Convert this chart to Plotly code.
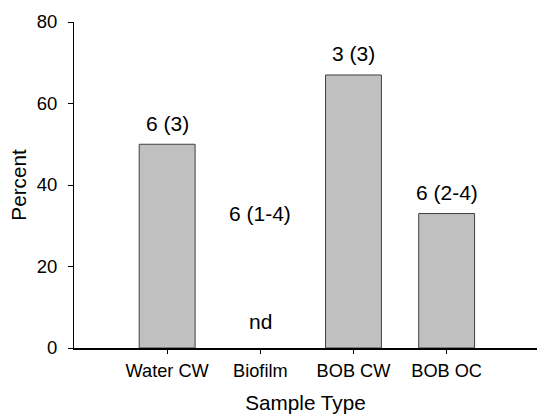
import plotly.graph_objects as go

categories = ["Water CW", "Biofilm", "BOB CW", "BOB OC"]
percent = [50, 0, 67, 33]
n_labels = ["6 (3)", "6 (1-4)", "3 (3)", "6 (2-4)"]
nd_labels = ["", "nd", "", ""]

FONT = "Liberation Sans, Arial, Helvetica, sans-serif"

fig = go.Figure()
fig.add_trace(go.Bar(
    x=categories, y=percent, width=0.6,
    marker=dict(color="#c0c0c0",
                line=dict(color="#404040", width=[1 if v > 0 else 0 for v in percent])),
    hoverinfo="skip",
))

for c, v, lab, nd in zip(categories, percent, n_labels, nd_labels):
    if v > 0:
        fig.add_annotation(x=c, y=v, text=lab, showarrow=False, yanchor="middle",
                           yshift=21, font=dict(size=21, color="black", family=FONT))
    else:
        fig.add_annotation(x=c, y=33, text=lab, showarrow=False, yanchor="middle",
                           font=dict(size=21, color="black", family=FONT))
    if nd:
        fig.add_annotation(x=c, y=0, text=nd, showarrow=False, yanchor="middle",
                           yshift=27, font=dict(size=21, color="black", family=FONT))

fig.update_layout(
    width=537, height=416,
    margin=dict(l=74, r=0, t=22, b=68),
    paper_bgcolor="white", plot_bgcolor="white",
    showlegend=False,
    font=dict(family=FONT, color="black", size=18),
    xaxis=dict(
        range=[-1.0, 3.97], showgrid=False, zeroline=False,
        showline=True, linecolor="black", linewidth=2,
        ticks="outside", ticklen=4, tickcolor="black", tickwidth=1,
        tickfont=dict(size=18.2), ticklabelstandoff=1,
        title=dict(text="Sample Type", font=dict(size=20.7), standoff=16),
    ),
    yaxis=dict(
        range=[0, 80], tickvals=[0, 20, 40, 60, 80], showgrid=False, zeroline=False,
        showline=True, linecolor="black", linewidth=1,
        ticks="outside", ticklen=5, tickcolor="black", tickwidth=1,
        tickfont=dict(size=18.5), ticklabelstandoff=7,
        title=dict(text="Percent", font=dict(size=20.7), standoff=4),
    ),
)

fig.write_html("out.html")
